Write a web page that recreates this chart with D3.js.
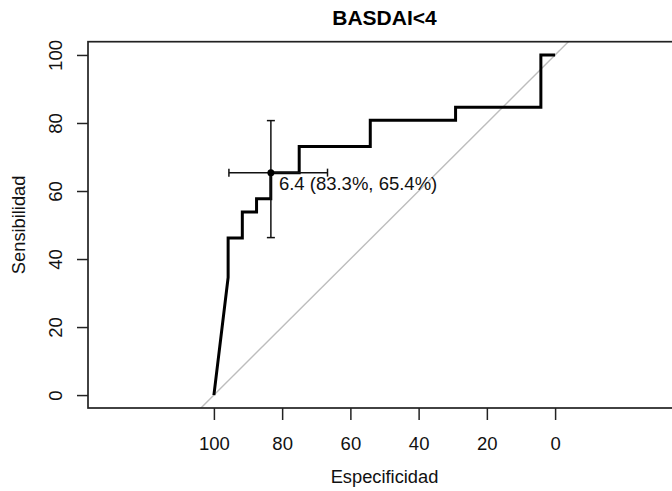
<!DOCTYPE html>
<html>
<head>
<meta charset="utf-8">
<script src="https://cdn.jsdelivr.net/npm/d3@7"></script>
<style>
  html, body { margin: 0; padding: 0; background: #fff; }
  svg { display: block; font-family: "Liberation Sans", Arial, Helvetica, sans-serif; }
</style>
</head>
<body>
<svg id="chart" width="672" height="491"></svg>
<script>
// ROC curve vertices (specificity %, sensitivity %)
const specificity = [100, 95.83, 95.83, 91.67, 91.67, 87.5, 87.5, 83.33, 83.33, 75, 75, 54.17, 54.17, 29.17, 29.17, 4.17, 4.17, 0];
const sensitivity = [0, 34.62, 46.15, 46.15, 53.85, 53.85, 57.69, 57.69, 65.38, 65.38, 73.08, 73.08, 80.77, 80.77, 84.62, 84.62, 100, 100];
// Best threshold and confidence intervals
const bestThreshold = [6.4];
const bestPoint = [83.3, 65.4];          // [specificity, sensitivity]
const specCI = [95.6, 66.7];             // specificity CI
const sensCI = [46.3, 80.7];             // sensitivity CI
const xTicks = [100, 80, 60, 40, 20, 0];
const yTicks = [0, 20, 40, 60, 80, 100];
const chartTitle = "BASDAI<4";
const xLabel = "Especificidad";
const yLabel = "Sensibilidad";

const svg = d3.select("#chart");
const pLeft = 88, pRight = 681, pTop = 41.7, pBottom = 408;

const x = d3.scaleLinear().domain([136.9, -36.9]).range([pLeft, pRight]);
const y = d3.scaleLinear().domain([-3.8, 103.9]).range([pBottom, pTop]);

svg.append("defs").append("clipPath").attr("id", "clip")
  .append("rect").attr("x", pLeft).attr("y", pTop).attr("width", pRight - pLeft).attr("height", pBottom - pTop);

const plot = svg.append("g").attr("clip-path", "url(#clip)");

// diagonal: sens + spec = 100
plot.append("line")
  .attr("x1", x(110)).attr("y1", y(-10))
  .attr("x2", x(-10)).attr("y2", y(110))
  .attr("stroke", "#bdbdbd").attr("stroke-width", 1.4);

// ROC curve
const pts = specificity.map((s, i) => [s, sensitivity[i]]);
plot.append("path")
  .datum(pts)
  .attr("d", d3.line().x(d => x(d[0])).y(d => y(d[1])))
  .attr("fill", "none").attr("stroke", "#000").attr("stroke-width", 3)
  .attr("stroke-linejoin", "miter");

// Confidence interval bars
const cap = 4;
const bx = x(bestPoint[0]), by = y(bestPoint[1]);
const ci = svg.append("g").attr("stroke", "#111").attr("stroke-width", 1.5);
ci.append("line").attr("x1", bx).attr("x2", bx).attr("y1", y(sensCI[0])).attr("y2", y(sensCI[1]));
sensCI.forEach(v => ci.append("line").attr("x1", bx - cap).attr("x2", bx + cap).attr("y1", y(v)).attr("y2", y(v)));
ci.append("line").attr("y1", by).attr("y2", by).attr("x1", x(specCI[0])).attr("x2", x(specCI[1]));
specCI.forEach(v => ci.append("line").attr("y1", by - cap).attr("y2", by + cap).attr("x1", x(v)).attr("x2", x(v)));

svg.append("circle").attr("cx", bx).attr("cy", by).attr("r", 3.5).attr("fill", "#000");

svg.append("text")
  .attr("x", bx + 8).attr("y", by + 17.5)
  .attr("font-size", "18.5px").attr("fill", "#111")
  .text(`${bestThreshold[0]} (${bestPoint[0].toFixed(1)}%, ${bestPoint[1].toFixed(1)}%)`);

// Box
svg.append("rect")
  .attr("x", pLeft).attr("y", pTop).attr("width", pRight - pLeft).attr("height", pBottom - pTop)
  .attr("fill", "none").attr("stroke", "#222").attr("stroke-width", 1.7);

// X axis
const xAxis = svg.append("g").attr("transform", `translate(0,${pBottom})`)
  .call(d3.axisBottom(x).tickValues(xTicks).tickSize(12).tickPadding(16.4).tickFormat(d3.format("d")));
xAxis.select(".domain").remove();
xAxis.selectAll(".tick line").attr("stroke", "#222").attr("stroke-width", 1.5);
xAxis.selectAll(".tick text").attr("font-size", "18.5px").attr("fill", "#111")
  .attr("font-family", "'Liberation Sans', Arial, sans-serif");

// Y axis
const yAxis = svg.append("g").attr("transform", `translate(${pLeft},0)`)
  .call(d3.axisLeft(y).tickValues(yTicks).tickSize(11).tickFormat(d3.format("d")));
yAxis.select(".domain").remove();
yAxis.selectAll(".tick line").attr("stroke", "#222").attr("stroke-width", 1.5);
yAxis.selectAll(".tick text")
  .attr("x", null).attr("dy", null)
  .attr("transform", "translate(-26,0) rotate(-90)")
  .attr("text-anchor", "middle")
  .attr("font-size", "18.5px").attr("fill", "#111")
  .attr("font-family", "'Liberation Sans', Arial, sans-serif");

// Title and labels
svg.append("text").attr("x", (pLeft + pRight) / 2).attr("y", 25)
  .attr("text-anchor", "middle").attr("font-size", "21px").attr("font-weight", "bold").attr("fill", "#000")
  .text(chartTitle);
svg.append("text").attr("x", (pLeft + pRight) / 2).attr("y", 482.5)
  .attr("text-anchor", "middle").attr("font-size", "18.3px").attr("fill", "#111")
  .text(xLabel);
svg.append("text").attr("transform", `translate(25,${(pTop + pBottom) / 2}) rotate(-90)`)
  .attr("text-anchor", "middle").attr("font-size", "18.3px").attr("fill", "#111")
  .text(yLabel);
</script>
</body>
</html>
